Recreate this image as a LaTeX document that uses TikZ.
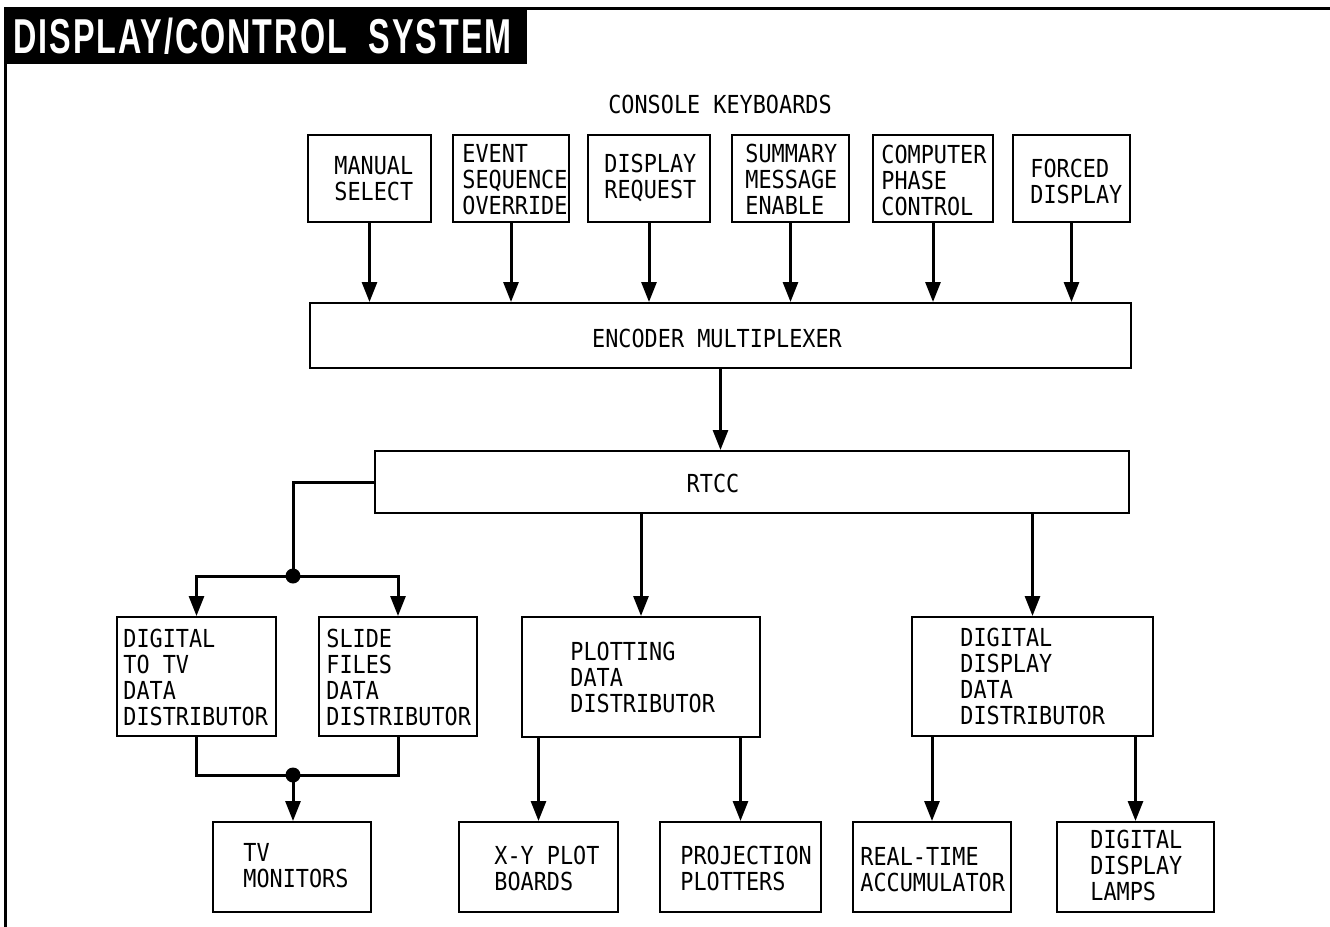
\documentclass[tikz,border=0pt]{standalone}
\usepackage{fontspec}
\usetikzlibrary{fit, arrows.meta}
\newfontfamily\boxfont[FakeStretch=0.88]{DejaVu Sans Mono}
\newfontfamily\titlefont[FakeStretch=0.66, LetterSpace=4]{Liberation Sans}

\tikzset{
    box/.style={draw, line width=1pt, inner sep=0pt},
    lbl/.style={font=\boxfont\fontsize{12.4}{13}\selectfont, align=left, anchor=west, inner sep=0pt},
    arr/.style={line width=1.5pt, -{Triangle[length=10pt, width=7.5pt]}},
    wire/.style={line width=1.5pt},
    dot/.style={circle, fill, inner sep=0pt, minimum size=7.5pt}
}

\begin{document}
\begin{tikzpicture}[x=0.5pt, y=-0.5pt]
    \useasboundingbox (0,0) rectangle (1330,927);

    % frame and title
    \draw[line width=1.5pt] (5,927) -- (5,8) -- (1330,8);
    \node[fill=black, inner sep=0pt, fit={(5,8) (527,64)}] (titlebar) {};
    \node[text=white, anchor=west, inner sep=0pt,
          font=\titlefont\bfseries\fontsize{24.5}{26}\selectfont] (title) at (13,36)
        {DISPLAY/CONTROL\hspace{0.45em}SYSTEM};

    % console keyboards
    \node[lbl, anchor=center] (console) at (720,104) {CONSOLE KEYBOARDS};

    \node[box, fit={(308,135) (431,222)}] (manual) {};
    \node[lbl] (manual-t) at (334,178.5) {MANUAL\\SELECT};
    \node[box, fit={(453,135) (569,222)}] (event) {};
    \node[lbl] (event-t) at (462,180) {EVENT\\SEQUENCE\\OVERRIDE};
    \node[box, fit={(588,135) (710,222)}] (request) {};
    \node[lbl] (request-t) at (604,178) {DISPLAY\\REQUEST};
    \node[box, fit={(732,135) (849,222)}] (summary) {};
    \node[lbl] (summary-t) at (745,179) {SUMMARY\\MESSAGE\\ENABLE};
    \node[box, fit={(873,135) (993,222)}] (phase) {};
    \node[lbl] (phase-t) at (881,180) {COMPUTER\\PHASE\\CONTROL};
    \node[box, fit={(1013,135) (1130,222)}] (forced) {};
    \node[lbl] (forced-t) at (1030,181) {FORCED\\DISPLAY};

    % encoder and rtcc
    \node[box, fit={(310,303) (1131,368)}] (encoder) {};
    \node[lbl, anchor=center] (encoder-t) at (717,338) {ENCODER MULTIPLEXER};
    \node[box, fit={(375,451) (1129,513)}] (rtcc) {};
    \node[lbl, anchor=center] (rtcc-t) at (713,483) {RTCC};

    % distributors
    \node[box, fit={(117,617) (276,736)}] (digtv) {};
    \node[lbl] (digtv-t) at (123,677) {DIGITAL\\TO TV\\DATA\\DISTRIBUTOR};
    \node[box, fit={(319,617) (477,736)}] (slide) {};
    \node[lbl] (slide-t) at (326,677) {SLIDE\\FILES\\DATA\\DISTRIBUTOR};
    \node[box, fit={(522,617) (760,737)}] (plotting) {};
    \node[lbl] (plotting-t) at (570,677) {PLOTTING\\DATA\\DISTRIBUTOR};
    \node[box, fit={(912,617) (1153,736)}] (digdisp) {};
    \node[lbl] (digdisp-t) at (960,676) {DIGITAL\\DISPLAY\\DATA\\DISTRIBUTOR};

    % outputs
    \node[box, fit={(213,822) (371,912)}] (tvmon) {};
    \node[lbl] (tvmon-t) at (243,866) {TV\\MONITORS};
    \node[box, fit={(459,822) (618,912)}] (xyplot) {};
    \node[lbl] (xyplot-t) at (494,868) {X-Y PLOT\\BOARDS};
    \node[box, fit={(660,822) (821,912)}] (projplot) {};
    \node[lbl] (projplot-t) at (680,868) {PROJECTION\\PLOTTERS};
    \node[box, fit={(853,822) (1011,912)}] (accum) {};
    \node[lbl] (accum-t) at (860,870) {REAL-TIME\\ACCUMULATOR};
    \node[box, fit={(1057,822) (1214,912)}] (lamps) {};
    \node[lbl] (lamps-t) at (1090,865) {DIGITAL\\DISPLAY\\LAMPS};

    % junctions
    \node[dot] (j1) at (293,576) {};
    \node[dot] (j2) at (293,775) {};

    % connectors
    \foreach \k in {manual, event, request, summary, phase, forced}
        \draw[arr] (\k.south) -- (\k.south |- encoder.north);
    \draw[arr] (encoder.south) -- (encoder.south |- rtcc.north);

    \draw[wire] (rtcc.west) -| (j1.center);
    \draw[arr] (j1.center) -| (digtv.north);
    \draw[arr] (j1.center) -| (slide.north);
    \draw[wire] (digtv.south) |- (j2.center) -| (slide.south);
    \draw[arr] (j2.center) -- (j2.center |- tvmon.north);

    \draw[arr] (rtcc.south -| plotting.north) -- (plotting.north);
    \draw[arr] (rtcc.south -| digdisp.north) -- (digdisp.north);

    \draw[arr] (plotting.south -| xyplot.north) -- (xyplot.north);
    \draw[arr] (plotting.south -| projplot.north) -- (projplot.north);
    \draw[arr] (digdisp.south -| accum.north) -- (accum.north);
    \draw[arr] (digdisp.south -| lamps.north) -- (lamps.north);
\end{tikzpicture}
\end{document}
